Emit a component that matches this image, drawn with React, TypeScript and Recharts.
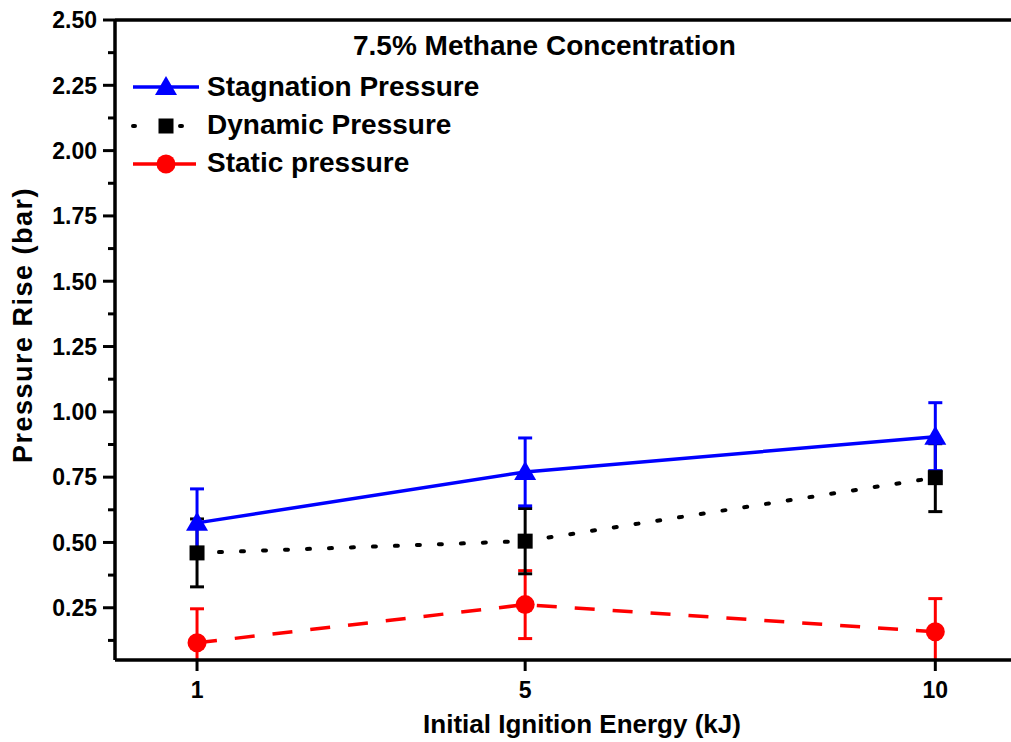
import React from 'react';
import { LineChart, Line, XAxis, YAxis, ErrorBar, ReferenceLine } from 'recharts';

// Initial ignition energy (kJ)
const energy = [1, 5, 10];

// Pressure rise (bar) at 7.5% methane
const stagnation = [0.575, 0.77, 0.905];
const stagnationErr = [0.13, 0.13, 0.13];

const dynamic = [0.46, 0.505, 0.748];
const dynamicErr = [0.13, 0.125, 0.13];

const staticPressure = [0.116, 0.262, 0.158];
const staticErr = [0.13, 0.13, 0.127];

// Axis ticks: majors every 0.25, minors halfway between
const yMajorTicks = [0.25, 0.5, 0.75, 1.0, 1.25, 1.5, 1.75, 2.0, 2.25, 2.5];
const yMinorTicks = [0.125, 0.375, 0.625, 0.875, 1.125, 1.375, 1.625, 1.875, 2.125, 2.375];
const xTicks = [1, 5, 10];

const seriesNames = ['Stagnation Pressure', 'Dynamic Pressure', 'Static pressure'];
const chartTitle = '7.5% Methane Concentration';
const xTitle = 'Initial Ignition Energy (kJ)';
const yTitle = 'Pressure Rise (bar)';

const data = energy.map((e, i) => ({
  energy: e,
  stagnation: stagnation[i],
  stagnationErr: stagnationErr[i],
  dynamic: dynamic[i],
  dynamicErr: dynamicErr[i],
  staticPressure: staticPressure[i],
  staticErr: staticErr[i],
}));

const yTicks = [...yMinorTicks, ...yMajorTicks].sort((a, b) => a - b);

const FONT = '"Liberation Sans", Arial, Helvetica, sans-serif';
const BLUE = '#0000ff';
const RED = '#ff0000';
const BLACK = '#000000';

// chart geometry: the frame runs past the right edge of the visible area
const CHART_W = 1060;
const CHART_H = 742;
const MARGIN = { top: 20, right: 0, bottom: 0, left: 0 };
const Y_AXIS_W = 115;
const X_AXIS_H = 82;
const X_MAX = 11.52;
const PLOT = {
  x: MARGIN.left + Y_AXIS_W,
  y: MARGIN.top,
  w: CHART_W - MARGIN.left - MARGIN.right - Y_AXIS_W,
  h: CHART_H - MARGIN.top - MARGIN.bottom - X_AXIS_H,
};

const triangle = (cx: number, cy: number, key?: string) => (
  <polygon
    key={key}
    points={`${cx},${cy - 11} ${cx - 11},${cy + 8} ${cx + 11},${cy + 8}`}
    fill={BLUE}
  />
);
const square = (cx: number, cy: number, key?: string) => (
  <rect key={key} x={cx - 7.5} y={cy - 7.5} width={15} height={15} fill={BLACK} />
);
const circle = (cx: number, cy: number, key?: string) => (
  <circle key={key} cx={cx} cy={cy} r={9.5} fill={RED} />
);

const YTick = (props: any) => {
  const { x, y, payload } = props;
  const v = payload.value as number;
  const major = yMajorTicks.some((t) => Math.abs(t - v) < 1e-6);
  return (
    <g>
      <line x1={x - (major ? 12 : 7)} x2={x} y1={y} y2={y} stroke={BLACK} strokeWidth={3} />
      {major && (
        <text
          x={x - 18}
          y={y}
          dy="0.36em"
          textAnchor="end"
          fontFamily={FONT}
          fontWeight="bold"
          fontSize={23}
          fill={BLACK}
        >
          {v.toFixed(2)}
        </text>
      )}
    </g>
  );
};

const XTick = (props: any) => {
  const { x, y, payload } = props;
  return (
    <g>
      <line x1={x} x2={x} y1={y} y2={y + 11} stroke={BLACK} strokeWidth={3} />
      <text
        x={x}
        y={y + 38}
        textAnchor="middle"
        fontFamily={FONT}
        fontWeight="bold"
        fontSize={23}
        fill={BLACK}
      >
        {payload.value}
      </text>
    </g>
  );
};

const textStyle = { fontFamily: FONT, fontWeight: 'bold' as const, fill: BLACK };
const CLIP = 'url(#plot-area-clip)';

export default function App() {
  return (
    // fixed to the viewport so the wider chart never makes the page scroll
    <div
      style={{
        position: 'fixed',
        left: 0,
        top: 0,
        right: 0,
        bottom: 0,
        overflow: 'hidden',
        background: '#ffffff',
      }}
    >
      <LineChart width={CHART_W} height={CHART_H} data={data} margin={MARGIN}>
        <defs>
          <clipPath id="plot-area-clip">
            <rect x={PLOT.x} y={PLOT.y} width={PLOT.w} height={PLOT.h} />
          </clipPath>
        </defs>
        <XAxis
          dataKey="energy"
          type="number"
          domain={[0, X_MAX]}
          allowDataOverflow
          ticks={xTicks}
          tick={<XTick />}
          tickLine={false}
          tickSize={0}
          tickMargin={0}
          height={X_AXIS_H}
          axisLine={{ stroke: BLACK, strokeWidth: 3.5 }}
        />
        <YAxis
          type="number"
          domain={[0.05, 2.5]}
          allowDataOverflow
          ticks={yTicks}
          interval={0}
          tick={<YTick />}
          tickLine={false}
          tickSize={0}
          tickMargin={0}
          width={Y_AXIS_W}
          axisLine={{ stroke: BLACK, strokeWidth: 3.5 }}
        />
        <ReferenceLine y={2.5} stroke={BLACK} strokeWidth={3.5} />

        <Line
          dataKey="staticPressure"
          stroke={RED}
          strokeWidth={3.5}
          strokeDasharray="20 18"
          isAnimationActive={false}
          activeDot={false}
          dot={(p: any) => circle(p.cx, p.cy, `st-${p.index}`)}
        >
          <ErrorBar
            dataKey="staticErr"
            direction="y"
            width={7}
            stroke={RED}
            strokeWidth={3}
            clipPath={CLIP}
            isAnimationActive={false}
          />
        </Line>
        <Line
          dataKey="dynamic"
          stroke={BLACK}
          strokeWidth={4}
          strokeDasharray="3 19"
          strokeLinecap="round"
          isAnimationActive={false}
          activeDot={false}
          dot={(p: any) => square(p.cx, p.cy, `dy-${p.index}`)}
        >
          <ErrorBar
            dataKey="dynamicErr"
            direction="y"
            width={7}
            stroke={BLACK}
            strokeWidth={3}
            clipPath={CLIP}
            isAnimationActive={false}
          />
        </Line>
        <Line
          dataKey="stagnation"
          stroke={BLUE}
          strokeWidth={3.5}
          isAnimationActive={false}
          activeDot={false}
          dot={(p: any) => triangle(p.cx, p.cy, `sg-${p.index}`)}
        >
          <ErrorBar
            dataKey="stagnationErr"
            direction="y"
            width={7}
            stroke={BLUE}
            strokeWidth={3}
            clipPath={CLIP}
            isAnimationActive={false}
          />
        </Line>

        {/* title */}
        <text x={353} y={55} fontSize={28} {...textStyle}>
          {chartTitle}
        </text>

        {/* legend */}
        <g>
          <line x1={133} x2={199} y1={87} y2={87} stroke={BLUE} strokeWidth={3.5} />
          {triangle(166, 87)}
          <text x={207} y={96} fontSize={28} {...textStyle}>
            {seriesNames[0]}
          </text>

          <line
            x1={133}
            x2={182}
            y1={126}
            y2={126}
            stroke={BLACK}
            strokeWidth={4}
            strokeDasharray="2 45"
            strokeLinecap="round"
          />
          {square(166, 126)}
          <text x={207} y={134} fontSize={28} {...textStyle}>
            {seriesNames[1]}
          </text>

          <line x1={133} x2={196} y1={164} y2={164} stroke={RED} strokeWidth={3.5} />
          {circle(166, 164)}
          <text x={207} y={172} fontSize={28} {...textStyle}>
            {seriesNames[2]}
          </text>
        </g>

        {/* axis titles */}
        <text x={582} y={733} fontSize={26} textAnchor="middle" {...textStyle}>
          {xTitle}
        </text>
        <text
          x={32}
          y={325}
          fontSize={27}
          letterSpacing={1.5}
          textAnchor="middle"
          transform="rotate(-90, 32, 325)"
          {...textStyle}
        >
          {yTitle}
        </text>
      </LineChart>
    </div>
  );
}
